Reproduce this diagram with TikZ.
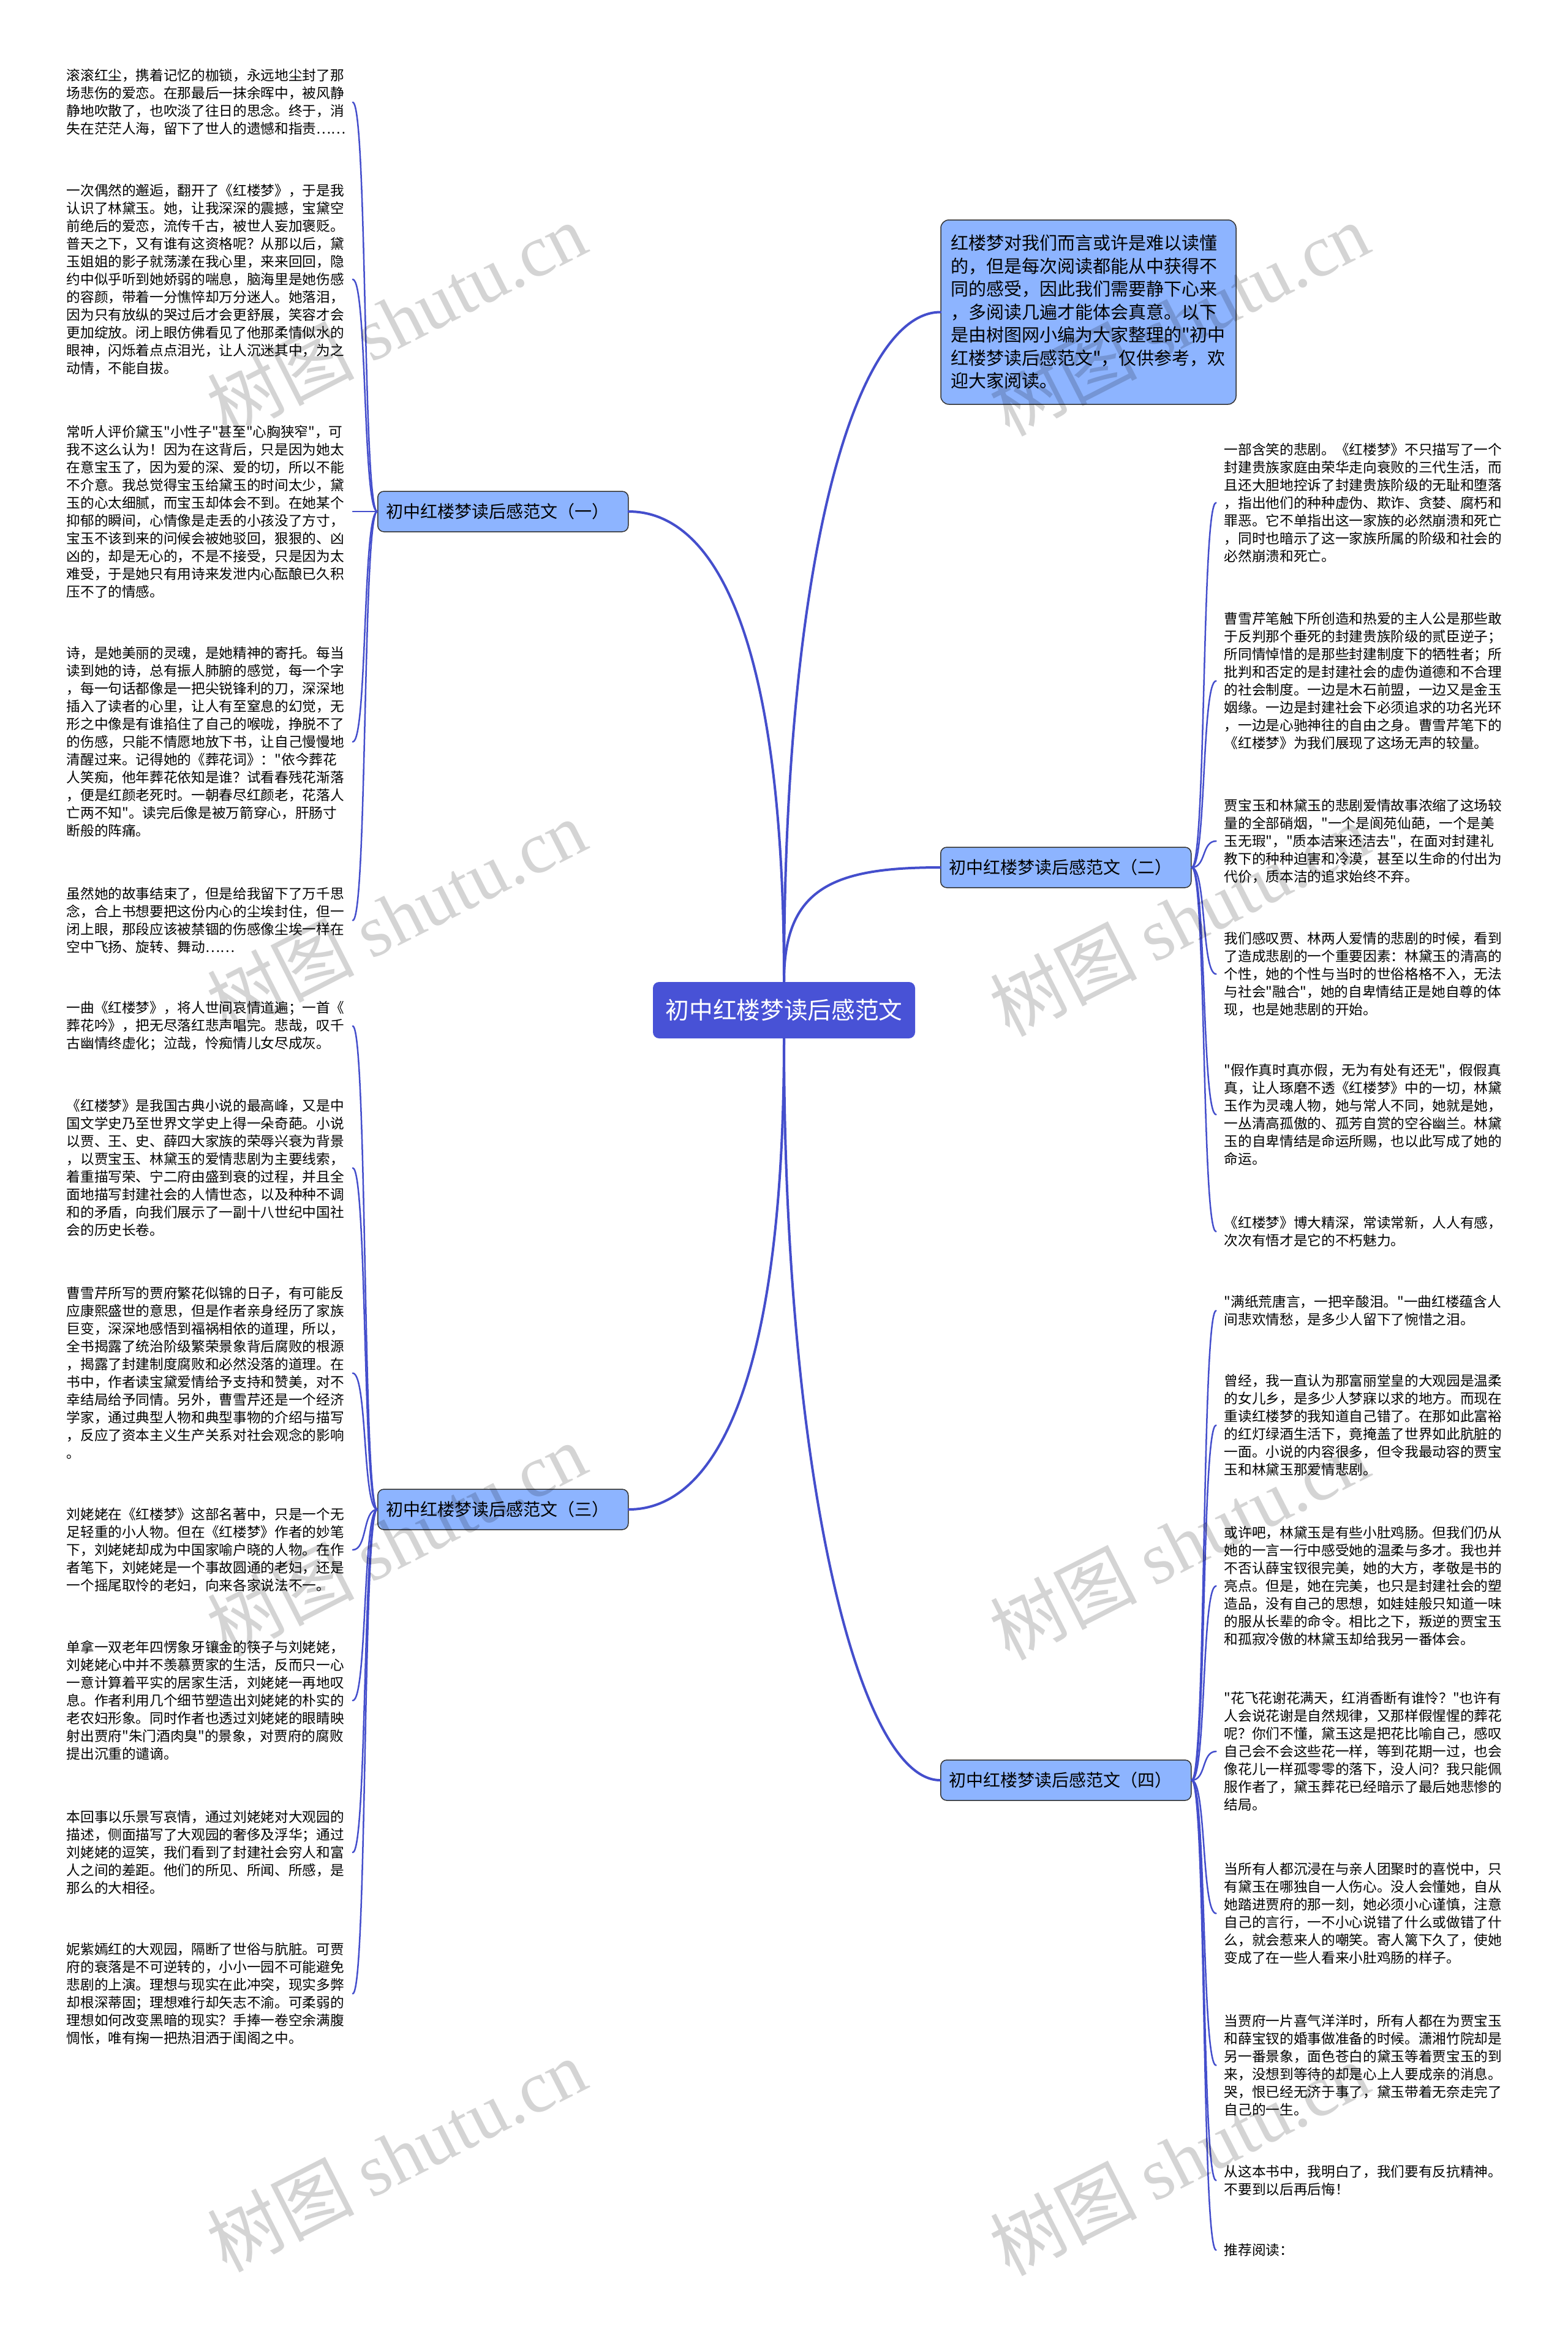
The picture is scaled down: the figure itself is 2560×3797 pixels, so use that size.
\documentclass[tikz,border=0pt]{standalone}
\usepackage{fontspec}
\setmainfont{Noto Sans CJK SC}
\newfontfamily\cjkfont{Noto Sans CJK SC}
\newfontfamily\wmlatin{Liberation Serif}
\definecolor{linkblue}{RGB}{68,78,204}
\definecolor{branchblue}{RGB}{141,180,255}
\definecolor{rootblue}{RGB}{72,82,214}

\begin{document}
\begin{tikzpicture}[x=0.3pt,y=-0.3pt,line cap=round,line join=round,
  leaf/.style={anchor=west,inner xsep=3.75pt,inner ysep=0pt,text width=136.2pt,align=left,font=\cjkfont\fontsize{6.8pt}{8.7pt}\selectfont},
  branch/.style={anchor=west,draw=black!80,fill=branchblue,rounded corners=3pt,line width=0.45pt,inner xsep=4.2pt,text width=114.3pt,minimum height=19.8pt,align=left,font=\cjkfont\fontsize{8.4pt}{10pt}\selectfont},
  root/.style={fill=rootblue,text=white,rounded corners=3pt,minimum width=128.4pt,minimum height=27.6pt,inner sep=0pt,font=\cjkfont\fontsize{11.6pt}{14pt}\selectfont},
  intro/.style={draw=black!80,fill=branchblue,rounded corners=4pt,line width=0.45pt,inner xsep=4.8pt,text width=135pt,minimum height=90.3pt,align=left,font=\cjkfont\fontsize{8.7pt}{11.25pt}\selectfont},
  link/.style={draw=linkblue,line width=1.2pt},
  twig/.style={draw=linkblue,line width=0.75pt},
  wmark/.style={rotate=27,text=black,opacity=0.17,font=\cjkfont\fontsize{36pt}{36pt}\selectfont}]
\useasboundingbox (0,0) rectangle (2560,3797);

\node[root] (root) at (1280,1649) {初中红楼梦读后感范文};
\node[intro] (intro) at (1777,509.5) {红楼梦对我们而言或许是难以读懂\\的，但是每次阅读都能从中获得不\\同的感受，因此我们需要静下心来\\，多阅读几遍才能体会真意。以下\\是由树图网小编为大家整理的"初中\\红楼梦读后感范文"，仅供参考，欢\\迎大家阅读。};
\node[branch] (b1) at (616,835) {初中红楼梦读后感范文（一）};
\node[branch] (b2) at (1535,1416) {初中红楼梦读后感范文（二）};
\node[branch] (b3) at (616,2464) {初中红楼梦读后感范文（三）};
\node[branch] (b4) at (1535,2906) {初中红楼梦读后感范文（四）};

\node[leaf] (l1) at (95.5,167) {滚滚红尘，携着记忆的枷锁，永远地尘封了那\\场悲伤的爱恋。在那最后一抹余晖中，被风静\\静地吹散了，也吹淡了往日的思念。终于，消\\失在茫茫人海，留下了世人的遗憾和指责……};
\node[leaf] (l2) at (95.5,456) {一次偶然的邂逅，翻开了《红楼梦》，于是我\\认识了林黛玉。她，让我深深的震撼，宝黛空\\前绝后的爱恋，流传千古，被世人妄加褒贬。\\普天之下，又有谁有这资格呢？从那以后，黛\\玉姐姐的影子就荡漾在我心里，来来回回，隐\\约中似乎听到她娇弱的喘息，脑海里是她伤感\\的容颜，带着一分憔悴却万分迷人。她落泪，\\因为只有放纵的哭过后才会更舒展，笑容才会\\更加绽放。闭上眼仿佛看见了他那柔情似水的\\眼神，闪烁着点点泪光，让人沉迷其中，为之\\动情，不能自拔。};
\node[leaf] (l3) at (95.5,835) {常听人评价黛玉"小性子"甚至"心胸狭窄"，可\\我不这么认为！因为在这背后，只是因为她太\\在意宝玉了，因为爱的深、爱的切，所以不能\\不介意。我总觉得宝玉给黛玉的时间太少，黛\\玉的心太细腻，而宝玉却体会不到。在她某个\\抑郁的瞬间，心情像是走丢的小孩没了方寸，\\宝玉不该到来的问候会被她驳回，狠狠的、凶\\凶的，却是无心的，不是不接受，只是因为太\\难受，于是她只有用诗来发泄内心酝酿已久积\\压不了的情感。};
\node[leaf] (l4) at (95.5,1211) {诗，是她美丽的灵魂，是她精神的寄托。每当\\读到她的诗，总有振人肺腑的感觉，每一个字\\，每一句话都像是一把尖锐锋利的刀，深深地\\插入了读者的心里，让人有至窒息的幻觉，无\\形之中像是有谁掐住了自己的喉咙，挣脱不了\\的伤感，只能不情愿地放下书，让自己慢慢地\\清醒过来。记得她的《葬花词》："依今葬花\\人笑痴，他年葬花依知是谁？试看春残花渐落\\，便是红颜老死时。一朝春尽红颜老，花落人\\亡两不知"。读完后像是被万箭穿心，肝肠寸\\断般的阵痛。};
\node[leaf] (l5) at (95.5,1502.5) {虽然她的故事结束了，但是给我留下了万千思\\念，合上书想要把这份内心的尘埃封住，但一\\闭上眼，那段应该被禁锢的伤感像尘埃一样在\\空中飞扬、旋转、舞动……};
\node[leaf] (l6) at (95.5,1675) {一曲《红楼梦》，将人世间哀情道遍；一首《\\葬花吟》，把无尽落红悲声唱完。悲哉，叹千\\古幽情终虚化；泣哉，怜痴情儿女尽成灰。};
\node[leaf] (l7) at (95.5,1906.5) {《红楼梦》是我国古典小说的最高峰，又是中\\国文学史乃至世界文学史上得一朵奇葩。小说\\以贾、王、史、薛四大家族的荣辱兴衰为背景\\，以贾宝玉、林黛玉的爱情悲剧为主要线索，\\着重描写荣、宁二府由盛到衰的过程，并且全\\面地描写封建社会的人情世态，以及种种不调\\和的矛盾，向我们展示了一副十八世纪中国社\\会的历史长卷。};
\node[leaf] (l8) at (95.5,2241.5) {曹雪芹所写的贾府繁花似锦的日子，有可能反\\应康熙盛世的意思，但是作者亲身经历了家族\\巨变，深深地感悟到福祸相依的道理，所以，\\全书揭露了统治阶级繁荣景象背后腐败的根源\\，揭露了封建制度腐败和必然没落的道理。在\\书中，作者读宝黛爱情给予支持和赞美，对不\\幸结局给予同情。另外，曹雪芹还是一个经济\\学家，通过典型人物和典型事物的介绍与描写\\，反应了资本主义生产关系对社会观念的影响\\。};
\node[leaf] (l9) at (95.5,2530) {刘姥姥在《红楼梦》这部名著中，只是一个无\\足轻重的小人物。但在《红楼梦》作者的妙笔\\下，刘姥姥却成为中国家喻户晓的人物。在作\\者笔下，刘姥姥是一个事故圆通的老妇，还是\\一个摇尾取怜的老妇，向来各家说法不一。};
\node[leaf] (l10) at (95.5,2776) {单拿一双老年四愣象牙镶金的筷子与刘姥姥，\\刘姥姥心中并不羡慕贾家的生活，反而只一心\\一意计算着平实的居家生活，刘姥姥一再地叹\\息。作者利用几个细节塑造出刘姥姥的朴实的\\老农妇形象。同时作者也透过刘姥姥的眼睛映\\射出贾府"朱门酒肉臭"的景象，对贾府的腐败\\提出沉重的谴谪。};
\node[leaf] (l11) at (95.5,3024) {本回事以乐景写哀情，通过刘姥姥对大观园的\\描述，侧面描写了大观园的奢侈及浮华；通过\\刘姥姥的逗笑，我们看到了封建社会穷人和富\\人之间的差距。他们的所见、所闻、所感，是\\那么的大相径。};
\node[leaf] (l12) at (95.5,3254.5) {妮紫嫣红的大观园，隔断了世俗与肮脏。可贾\\府的衰落是不可逆转的，小小一园不可能避免\\悲剧的上演。理想与现实在此冲突，现实多弊\\却根深蒂固；理想难行却矢志不渝。可柔弱的\\理想如何改变黑暗的现实？手捧一卷空余满腹\\惆怅，唯有掬一把热泪洒于闺阁之中。};

\node[leaf] (r1) at (1985.5,820.5) {一部含笑的悲剧。《红楼梦》不只描写了一个\\封建贵族家庭由荣华走向衰败的三代生活，而\\且还大胆地控诉了封建贵族阶级的无耻和堕落\\，指出他们的种种虚伪、欺诈、贪婪、腐朽和\\罪恶。它不单指出这一家族的必然崩溃和死亡\\，同时也暗示了这一家族所属的阶级和社会的\\必然崩溃和死亡。};
\node[leaf] (r2) at (1985.5,1111.5) {曹雪芹笔触下所创造和热爱的主人公是那些敢\\于反判那个垂死的封建贵族阶级的贰臣逆子；\\所同情悼惜的是那些封建制度下的牺牲者；所\\批判和否定的是封建社会的虚伪道德和不合理\\的社会制度。一边是木石前盟，一边又是金玉\\姻缘。一边是封建社会下必须追求的功名光环\\，一边是心驰神往的自由之身。曹雪芹笔下的\\《红楼梦》为我们展现了这场无声的较量。};
\node[leaf] (r3) at (1985.5,1373) {贾宝玉和林黛玉的悲剧爱情故事浓缩了这场较\\量的全部硝烟，"一个是阆苑仙葩，一个是美\\玉无瑕"，"质本洁来还洁去"，在面对封建礼\\教下的种种迫害和冷漠，甚至以生命的付出为\\代价，质本洁的追求始终不弃。};
\node[leaf] (r4) at (1985.5,1590) {我们感叹贾、林两人爱情的悲剧的时候，看到\\了造成悲剧的一个重要因素：林黛玉的清高的\\个性，她的个性与当时的世俗格格不入，无法\\与社会"融合"，她的自卑情结正是她自尊的体\\现，也是她悲剧的开始。};
\node[leaf] (r5) at (1985.5,1819.5) {"假作真时真亦假，无为有处有还无"，假假真\\真，让人琢磨不透《红楼梦》中的一切，林黛\\玉作为灵魂人物，她与常人不同，她就是她，\\一丛清高孤傲的、孤芳自赏的空谷幽兰。林黛\\玉的自卑情结是命运所赐，也以此写成了她的\\命运。};
\node[leaf] (r6) at (1985.5,2010.5) {《红楼梦》博大精深，常读常新，人人有感，\\次次有悟才是它的不朽魅力。};
\node[leaf] (r7) at (1985.5,2139.5) {"满纸荒唐言，一把辛酸泪。"一曲红楼蕴含人\\间悲欢情愁，是多少人留下了惋惜之泪。};
\node[leaf] (r8) at (1985.5,2326.5) {曾经，我一直认为那富丽堂皇的大观园是温柔\\的女儿乡，是多少人梦寐以求的地方。而现在\\重读红楼梦的我知道自己错了。在那如此富裕\\的红灯绿酒生活下，竟掩盖了世界如此肮脏的\\一面。小说的内容很多，但令我最动容的贾宝\\玉和林黛玉那爱情悲剧。};
\node[leaf] (r9) at (1985.5,2589) {或许吧，林黛玉是有些小肚鸡肠。但我们仍从\\她的一言一行中感受她的温柔与多才。我也并\\不否认薛宝钗很完美，她的大方，孝敬是书的\\亮点。但是，她在完美，也只是封建社会的塑\\造品，没有自己的思想，如娃娃般只知道一味\\的服从长辈的命令。相比之下，叛逆的贾宝玉\\和孤寂冷傲的林黛玉却给我另一番体会。};
\node[leaf] (r10) at (1985.5,2859) {"花飞花谢花满天，红消香断有谁怜？"也许有\\人会说花谢是自然规律，又那样假惺惺的葬花\\呢？你们不懂，黛玉这是把花比喻自己，感叹\\自己会不会这些花一样，等到花期一过，也会\\像花儿一样孤零零的落下，没人问？我只能佩\\服作者了，黛玉葬花已经暗示了最后她悲惨的\\结局。};
\node[leaf] (r11) at (1985.5,3123.5) {当所有人都沉浸在与亲人团聚时的喜悦中，只\\有黛玉在哪独自一人伤心。没人会懂她，自从\\她踏进贾府的那一刻，她必须小心谨慎，注意\\自己的言行，一不小心说错了什么或做错了什\\么，就会惹来人的嘲笑。寄人篱下久了，使她\\变成了在一些人看来小肚鸡肠的样子。};
\node[leaf] (r12) at (1985.5,3371.5) {当贾府一片喜气洋洋时，所有人都在为贾宝玉\\和薛宝钗的婚事做准备的时候。潇湘竹院却是\\另一番景象，面色苍白的黛玉等着贾宝玉的到\\来，没想到等待的却是心上人要成亲的消息。\\哭，恨已经无济于事了，黛玉带着无奈走完了\\自己的一生。};
\node[leaf] (r13) at (1985.5,3559.5) {从这本书中，我明白了，我们要有反抗精神。\\不要到以后再后悔！};
\node[leaf] (r14) at (1985.5,3673) {推荐阅读：};

\draw[link] (root.north) .. controls +(0,-603) and +(125,0) .. (b1.east);
\draw[link] (root.north) .. controls +(0,-703) and +(-136,0) .. (intro.west);
\draw[link] (root.north) .. controls +(0,-153) and +(-175,0) .. (b2.west);
\draw[link] (root.south) .. controls +(0,603) and +(125,0) .. (b3.east);
\draw[link] (root.south) .. controls +(0,705) and +(-135,0) .. (b4.west);

\draw[twig] (b1.west) .. controls +(-24,0) and +(24,0) .. (l1.east);
\draw[twig] (b1.west) .. controls +(-24,0) and +(24,0) .. (l2.east);
\draw[twig] (b1.west) .. controls +(-24,0) and +(24,0) .. (l3.east);
\draw[twig] (b1.west) .. controls +(-24,0) and +(24,0) .. (l4.east);
\draw[twig] (b1.west) .. controls +(-24,0) and +(24,0) .. (l5.east);
\draw[twig] (b3.west) .. controls +(-24,0) and +(24,0) .. (l6.east);
\draw[twig] (b3.west) .. controls +(-24,0) and +(24,0) .. (l7.east);
\draw[twig] (b3.west) .. controls +(-24,0) and +(24,0) .. (l8.east);
\draw[twig] (b3.west) .. controls +(-24,0) and +(24,0) .. (l9.east);
\draw[twig] (b3.west) .. controls +(-24,0) and +(24,0) .. (l10.east);
\draw[twig] (b3.west) .. controls +(-24,0) and +(24,0) .. (l11.east);
\draw[twig] (b3.west) .. controls +(-24,0) and +(24,0) .. (l12.east);

\draw[twig] (b2.east) .. controls +(24,0) and +(-24,0) .. (r1.west);
\draw[twig] (b2.east) .. controls +(24,0) and +(-24,0) .. (r2.west);
\draw[twig] (b2.east) .. controls +(24,0) and +(-24,0) .. (r3.west);
\draw[twig] (b2.east) .. controls +(24,0) and +(-24,0) .. (r4.west);
\draw[twig] (b2.east) .. controls +(24,0) and +(-24,0) .. (r5.west);
\draw[twig] (b2.east) .. controls +(24,0) and +(-24,0) .. (r6.west);
\draw[twig] (b4.east) .. controls +(24,0) and +(-24,0) .. (r7.west);
\draw[twig] (b4.east) .. controls +(24,0) and +(-24,0) .. (r8.west);
\draw[twig] (b4.east) .. controls +(24,0) and +(-24,0) .. (r9.west);
\draw[twig] (b4.east) .. controls +(24,0) and +(-24,0) .. (r10.west);
\draw[twig] (b4.east) .. controls +(24,0) and +(-24,0) .. (r11.west);
\draw[twig] (b4.east) .. controls +(24,0) and +(-24,0) .. (r12.west);
\draw[twig] (b4.east) .. controls +(24,0) and +(-24,0) .. (r13.west);
\draw[twig] (b4.east) .. controls +(24,0) and +(-24,0) .. (r14.west);

\node[wmark] (wm1) at (647,521) {树图 {\wmlatin shutu.cn}};
\node[wmark] (wm2) at (647,1495) {树图 {\wmlatin shutu.cn}};
\node[wmark] (wm3) at (647,2513) {树图 {\wmlatin shutu.cn}};
\node[wmark] (wm4) at (647,3518) {树图 {\wmlatin shutu.cn}};
\node[wmark] (wm5) at (1925,521) {树图 {\wmlatin shutu.cn}};
\node[wmark] (wm6) at (1925,1501) {树图 {\wmlatin shutu.cn}};
\node[wmark] (wm7) at (1925,2519) {树图 {\wmlatin shutu.cn}};
\node[wmark] (wm8) at (1925,3524) {树图 {\wmlatin shutu.cn}};
\end{tikzpicture}
\end{document}
